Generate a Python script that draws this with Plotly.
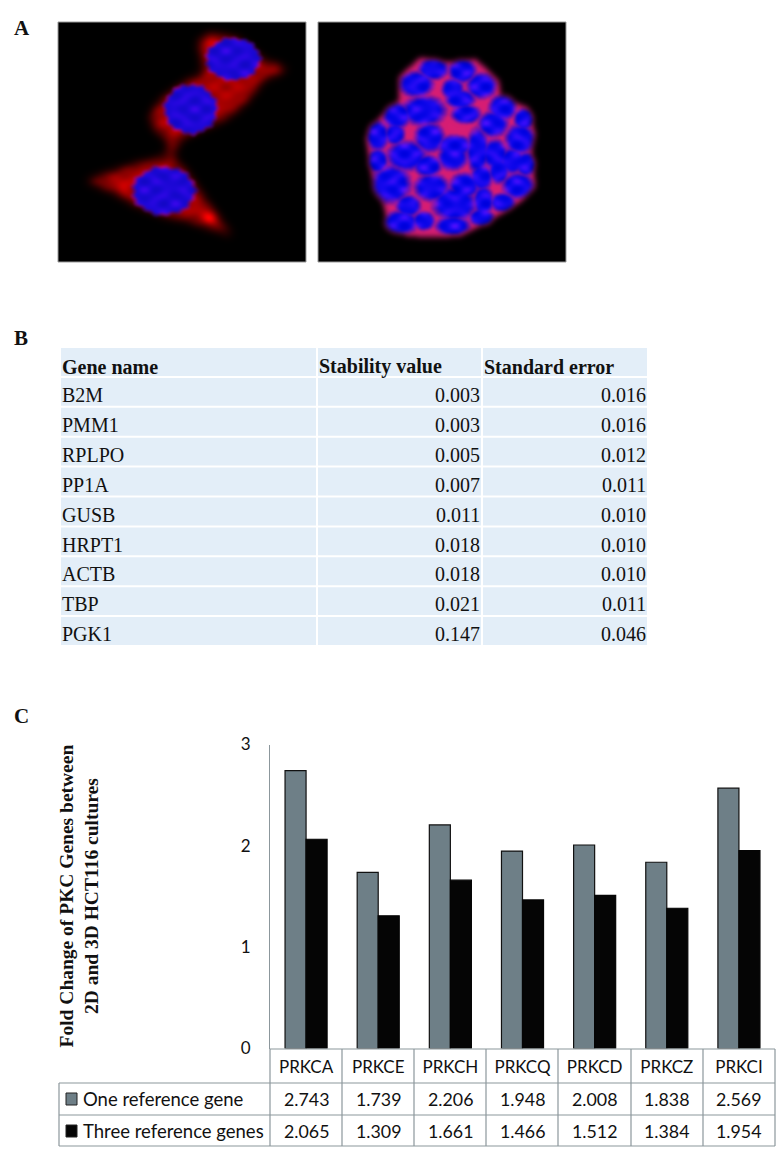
import numpy as np
import plotly.graph_objs as go

W, H = 778, 1154

# panel B
table_header = ['Gene name', 'Stability value', 'Standard error']
gene_names = ['B2M', 'PMM1', 'RPLPO', 'PP1A', 'GUSB', 'HRPT1', 'ACTB', 'TBP', 'PGK1']
stability = ['0.003', '0.003', '0.005', '0.007', '0.011', '0.018', '0.018', '0.021', '0.147']
std_error = ['0.016', '0.016', '0.012', '0.011', '0.010', '0.010', '0.010', '0.011', '0.046']

# panel C
pkc_genes = ['PRKCA', 'PRKCE', 'PRKCH', 'PRKCQ', 'PRKCD', 'PRKCZ', 'PRKCI']
one_ref = [2.743, 1.739, 2.206, 1.948, 2.008, 1.838, 2.569]
three_ref = [2.065, 1.309, 1.661, 1.466, 1.512, 1.384, 1.954]

# micrographs of panel A (x, y, rx, ry in zoom-crop coordinates)
cells_2d = [
    [(520, 175), (510, 120), (550, 95), (620, 110), (690, 180), (755, 205), (690, 235), (640, 310),
     (590, 355), (510, 395), (465, 420), (455, 465), (430, 460), (435, 420), (395, 385), (385, 340),
     (420, 290), (480, 240), (530, 215)],
    [(440, 465), (480, 500), (520, 570), (570, 650), (610, 710), (560, 690), (480, 660), (430, 650),
     (340, 610), (300, 580), (215, 540), (300, 505), (370, 480)],
]
nuclei_2d = [(605, 175, 78, 70), (495, 325, 76, 82), (425, 570, 90, 80)]
spheroid = [(1095, 170), (1170, 185), (1240, 175), (1300, 240), (1305, 290), (1375, 320), (1395, 400),
            (1385, 450), (1395, 560), (1360, 600), (1320, 630), (1260, 670), (1200, 705), (1130, 710),
            (1060, 705), (1010, 660), (1000, 610), (975, 560), (965, 490), (955, 410), (990, 350),
            (1040, 300), (1040, 230)]
nuclei_3d = [(1130, 205, 30, 25), (1205, 210, 28, 28), (1255, 255, 30, 30), (1085, 250, 35, 30),
             (1180, 265, 22, 25), (1200, 295, 30, 22), (1310, 320, 28, 30), (1365, 355, 20, 25),
             (1105, 330, 45, 35), (1035, 345, 28, 30), (1215, 340, 30, 22), (1285, 370, 30, 30),
             (985, 405, 22, 35), (1030, 400, 20, 25), (1060, 465, 40, 35), (1120, 410, 30, 35),
             (1185, 435, 35, 25), (1180, 470, 30, 30), (1245, 450, 22, 55), (1290, 460, 25, 35),
             (1355, 415, 30, 35), (1335, 480, 25, 30), (1370, 490, 20, 28), (985, 480, 20, 28),
             (1115, 495, 28, 25), (1020, 550, 40, 45), (1125, 560, 35, 32), (1210, 555, 30, 30),
             (1255, 530, 22, 30), (1300, 510, 20, 30), (1350, 555, 32, 30), (1065, 615, 25, 25),
             (1185, 610, 45, 40), (1260, 600, 20, 35), (1310, 605, 25, 22), (1045, 665, 35, 28),
             (1105, 660, 22, 22), (1180, 675, 35, 22), (1255, 650, 25, 20)]

IMG_W, IMG_H = 248, 240
yy, xx = np.mgrid[0:IMG_H, 0:IMG_W].astype(float)


def to_img(zx, zy, x0):
    return (zx - x0) / 2.6, (zy - 65) / 3.0


def polygon_mask(points, x0):
    pts = [to_img(px, py, x0) for px, py in points]
    inside = np.zeros(xx.shape, dtype=bool)
    for (x1, y1), (x2, y2) in zip(pts, pts[1:] + pts[:1]):
        if y1 == y2:
            continue
        crosses = (y1 > yy) != (y2 > yy)
        inside ^= crosses & (xx < (x2 - x1) * (yy - y1) / (y2 - y1) + x1)
    return inside.astype(float)


def blur(a, sigma):
    r = int(sigma * 3)
    k = np.exp(-0.5 * (np.arange(-r, r + 1) / sigma) ** 2)
    k /= k.sum()
    a = np.apply_along_axis(lambda v: np.convolve(v, k, mode='same'), 0, a)
    return np.apply_along_axis(lambda v: np.convolve(v, k, mode='same'), 1, a)


def nuclei_mask(items, x0, edge, grow=1.0, ragged=0.0):
    out = np.zeros(xx.shape)
    for zx, zy, rx, ry in items:
        cx, cy = to_img(zx, zy, x0)
        dx, dy = (xx - cx) / (rx * grow / 2.6), (yy - cy) / (ry * grow / 3.0)
        theta = np.arctan2(dy, dx)
        r = np.sqrt(dx ** 2 + dy ** 2) * (1 + ragged * np.sin(7 * theta + cx) + ragged * np.sin(17 * theta + cy))
        out = np.maximum(out, np.clip((1 - r) * edge, 0, 1))
    return out


# soft blotches inside the nuclei, crossed waves so no stripes show
def mottle():
    return (np.sin(xx * 0.31) * np.sin(yy * 0.27) + np.sin(xx * 0.19 + 1.0) * np.sin(yy * 0.43 + 2.0)) / 4 + 0.5


def micrograph_2d():
    x0 = 151
    mask = np.zeros(xx.shape)
    for cell in cells_2d:
        mask = np.maximum(mask, polygon_mask(cell, x0))
    tex = mottle()
    red = blur(mask, 5.5) ** 1.6 * 175 * (0.85 + 0.25 * tex)
    for zx, zy, amp in [(545, 650, 100), (320, 560, 40), (545, 120, 50), (715, 205, 40)]:
        sx, sy = to_img(zx, zy, x0)
        red += amp * np.exp(-((xx - sx) ** 2 + (yy - sy) ** 2) / 50)
    nuc = nuclei_mask(nuclei_2d, x0, 5, ragged=0.025)
    band = 4 * nuc * (1 - nuc)
    rgb = np.dstack([red * (1 - nuc) + nuc * (20 + 40 * tex ** 2) + 50 * band * tex,
                     8 * nuc, nuc * (195 + 40 * tex)])
    return np.clip(np.dstack([blur(rgb[..., i], 1.0) for i in range(3)]), 0, 255).astype(np.uint8)


def micrograph_3d():
    x0 = 831
    outline = np.maximum(polygon_mask(spheroid, x0), nuclei_mask(nuclei_3d, x0, 50, grow=1.2))
    mask = blur(outline, 3)
    nuc = blur(nuclei_mask(nuclei_3d, x0, 2.4, grow=1.5, ragged=0.015), 1.2)
    tex = mottle()
    red = mask * (215 * (1 - nuc) ** 1.1 + 75 * nuc * tex ** 2)
    blue = mask * (115 + 125 * nuc * (0.85 + 0.25 * tex))
    green = mask * ((1 - nuc) * 30 + 15 * nuc * tex)
    return np.clip(np.dstack([red, green, blue]), 0, 255).astype(np.uint8)


def fx(px):
    return px / W


def fy(py):
    return 1 - py / H


fig = go.Figure()

# Panel A
for idx, (img, x_left) in enumerate([(micrograph_2d(), 58), (micrograph_3d(), 318)]):
    suffix = str(idx + 2)
    fig.add_trace(go.Image(z=img.tolist(), xaxis='x' + suffix, yaxis='y' + suffix, hoverinfo='skip'))
    fig.update_layout({
        'xaxis' + suffix: dict(domain=[fx(x_left), fx(x_left + IMG_W)], range=[-0.5, IMG_W - 0.5],
                               visible=False, anchor='y' + suffix),
        'yaxis' + suffix: dict(domain=[fy(22 + IMG_H), fy(22)], range=[IMG_H - 0.5, -0.5],
                               visible=False, anchor='x' + suffix),
    })

# Panel C bars
fig.add_trace(go.Bar(x=pkc_genes, y=one_ref, name='One reference gene',
    marker={'color': '#6E7F87', 'line': {'color': '#111111', 'width': 1.2}}))
fig.add_trace(go.Bar(x=pkc_genes, y=three_ref, name='Three reference genes',
    marker={'color': '#050505', 'line': {'color': '#050505', 'width': 1.2}}))

shapes = []
annotations = []


def add_text(text, x, y, size, family, xanchor='left', **kw):
    annotations.append(dict(text=text, x=x, y=y, xref=kw.pop('xref', 'paper'), yref='paper',
                            xanchor=xanchor, yanchor='middle', showarrow=False,
                            font={'size': size, 'family': family, 'color': '#111111'}, **kw))


SERIF = 'Liberation Serif'
SANS = 'Lato'

for letter, py in [('A', 28), ('B', 338), ('C', 716)]:
    add_text('<b>%s</b>' % letter, fx(12), fy(py), 21, SERIF)

for x_left in (58, 318):
    shapes.append(dict(type='rect', xref='paper', yref='paper', x0=fx(x_left), x1=fx(x_left + IMG_W),
                       y0=fy(22), y1=fy(22 + IMG_H), line={'color': '#9a9a9a', 'width': 1}))

# Panel B table
col_edges = [(61, 316), (318, 481), (483, 647)]
row_h = 29.9
for r in range(10):
    top = 348 + r * row_h
    for left, right in col_edges:
        shapes.append(dict(type='rect', xref='paper', yref='paper', layer='below', x0=fx(left), x1=fx(right),
                           y0=fy(top + row_h - 2), y1=fy(top), fillcolor='#E3EEF8', line={'width': 0}))

for (left, _), head in zip(col_edges, table_header):
    add_text('<b>%s</b>' % head, fx(left - 1), fy(366.5), 20, SERIF)
for i, (gene, stab, err) in enumerate(zip(gene_names, stability, std_error)):
    py = 395 + i * row_h
    add_text(gene, fx(60), fy(py), 20, SERIF)
    add_text(stab, fx(482), fy(py), 20, SERIF, xanchor='right')
    add_text(err, fx(648), fy(py), 20, SERIF, xanchor='right')

# Panel C data table
GRID = '#8C979C'
col_x = [270, 342, 414, 486, 558, 631, 703, 775]
for px in col_x:
    shapes.append(dict(type='line', xref='paper', yref='paper', x0=fx(px), x1=fx(px),
                       y0=fy(1049), y1=fy(1146), line={'color': GRID, 'width': 1.2}))
shapes.append(dict(type='line', xref='paper', yref='paper', x0=fx(59), x1=fx(59),
                   y0=fy(1083), y1=fy(1146), line={'color': GRID, 'width': 1.2}))
shapes.append(dict(type='line', xref='paper', yref='paper', x0=fx(270), x1=fx(775),
                   y0=fy(1049), y1=fy(1049), line={'color': GRID, 'width': 1.2}))
for py in (1083, 1115, 1146):
    shapes.append(dict(type='line', xref='paper', yref='paper', x0=fx(59), x1=fx(775),
                       y0=fy(py), y1=fy(py), line={'color': GRID, 'width': 1.2}))

for label, values, py, color in [('One reference gene', one_ref, 1099, '#6E7F87'),
                                 ('Three reference genes', three_ref, 1131, '#050505')]:
    shapes.append(dict(type='rect', xref='paper', yref='paper', x0=fx(66), x1=fx(77), y0=fy(py + 6),
                       y1=fy(py - 6), fillcolor=color, line={'color': '#222222', 'width': 1}))
    add_text(label, fx(81), fy(py), 18.5, SANS)
    for gene, val in zip(pkc_genes, values):
        add_text('%.3f' % val, gene, fy(py), 17.8, SANS, xanchor='center', xref='x')

annotations.append(dict(text='<b>Fold Change of PKC Genes between<br>2D and 3D HCT116 cultures</b>',
                        x=fx(78.5), y=fy(896), xref='paper', yref='paper', xanchor='center', yanchor='middle',
                        textangle=-90, showarrow=False,
                        font={'size': 19.5, 'family': SERIF, 'color': '#111111'}))

fig.update_layout(
    width=W, height=H,
    margin={'l': 0, 'r': 0, 't': 0, 'b': 0, 'autoexpand': False},
    paper_bgcolor='#fff', plot_bgcolor='rgba(0,0,0,0)',
    showlegend=False, barmode='group', bargap=0.417, bargroupgap=0,
    xaxis={'domain': [fx(270), fx(775)], 'type': 'category', 'categoryorder': 'array',
           'categoryarray': pkc_genes, 'range': [-0.5, 6.5], 'ticks': '', 'showline': False,
           'showgrid': False, 'anchor': 'y', 'ticklabelstandoff': 6, 'automargin': False,
           'tickfont': {'size': 17, 'family': SANS, 'color': '#111111'}},
    yaxis={'domain': [fy(1048.5), fy(744.5)], 'range': [0, 3], 'tickvals': [0, 1, 2, 3], 'ticks': '',
           'showline': True, 'linecolor': '#8C979C', 'linewidth': 1, 'showgrid': False, 'zeroline': False,
           'anchor': 'x', 'ticklabelstandoff': 15, 'automargin': False,
           'tickfont': {'size': 17, 'family': SANS, 'color': '#111111'}},
    shapes=shapes, annotations=annotations,
)

fig.write_html("out.html", config={'displayModeBar': False}, post_script="document.body.style.margin='0';")
